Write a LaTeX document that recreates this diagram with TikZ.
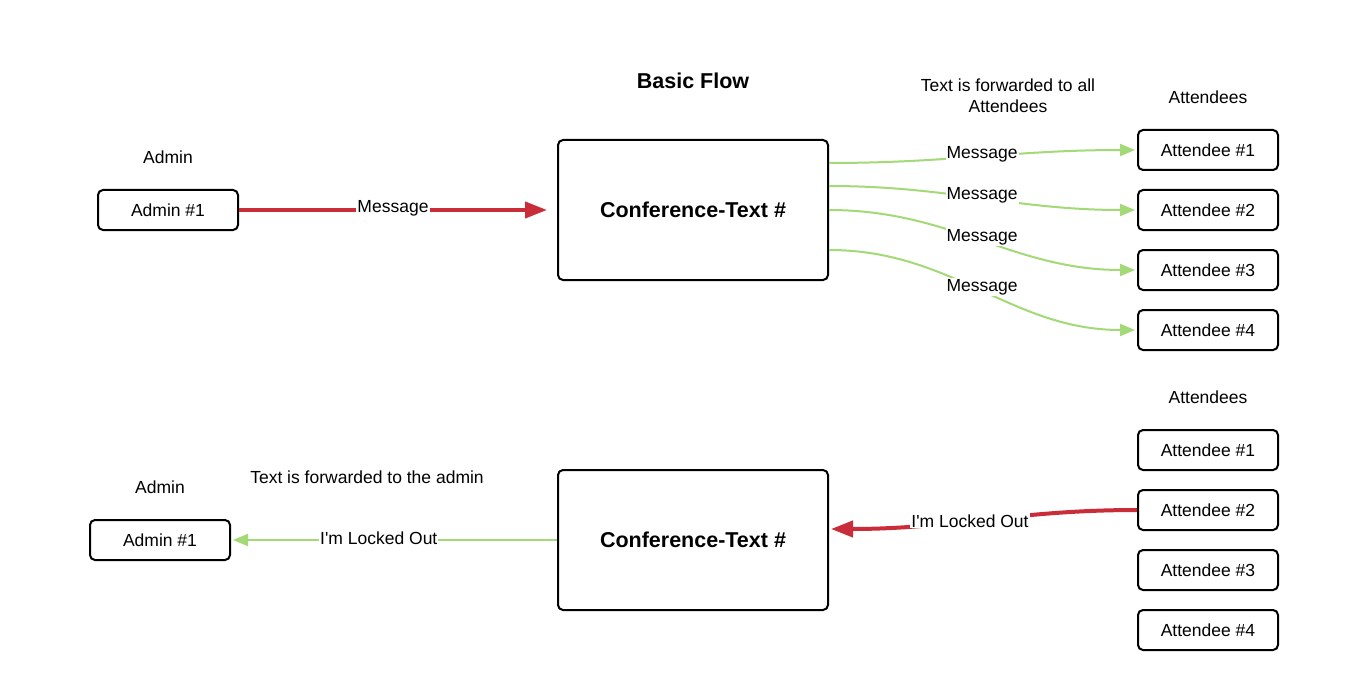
\documentclass[tikz,border=0pt]{standalone}
\usepackage{fontspec}
\setmainfont{Liberation Sans}
\usetikzlibrary{arrows.meta}
\definecolor{lcred}{HTML}{C92D39}
\definecolor{lcgreen}{HTML}{A3D977}
\tikzset{
  box/.style={draw=black, line width=2pt, rounded corners=5pt, minimum width=140pt, minimum height=40pt, inner sep=0pt, font=\fontsize{17.5}{20}\selectfont},
  conf/.style={draw=black, line width=2pt, rounded corners=5pt, minimum width=270pt, minimum height=140pt, inner sep=0pt, font=\bfseries\fontsize{21.5}{24}\selectfont},
  txt/.style={font=\fontsize{17.5}{21}\selectfont, align=center, inner sep=0pt},
  lbl/.style={font=\fontsize{17.5}{20}\selectfont, fill=white, inner sep=1pt},
  redarrow/.style={draw=lcred, line width=4pt, -{Triangle[length=22pt,width=16pt]}},
  greenarrow/.style={draw=lcgreen, line width=2pt, -{Triangle[length=15pt,width=12pt]}},
}
\begin{document}
\begin{tikzpicture}[x=1pt,y=-1pt]
\useasboundingbox[fill=white] (0,0) rectangle (1369,690);
% top
\node[txt, font=\bfseries\fontsize{21.5}{24}\selectfont] (title) at (693,81) {Basic Flow};
\node[txt] (fwdall) at (1008,96) {Text is forwarded to all\\Attendees};
\node[txt] (attT) at (1208,97) {Attendees};
\node[txt] (adminT) at (168,157) {Admin};
\node[box] (a1) at (168,210) {Admin \#1};
\node[conf] (c1) at (693,210) {Conference-Text \#};
\node[box] (t1) at (1208,150) {Attendee \#1};
\node[box] (t2) at (1208,210) {Attendee \#2};
\node[box] (t3) at (1208,270) {Attendee \#3};
\node[box] (t4) at (1208,330) {Attendee \#4};
\draw[redarrow] (a1.east) -- ([xshift=-10pt]c1.west) node[lbl, pos=0.5, yshift=2pt] {Message};
\draw[greenarrow] ([yshift=47pt]c1.east) to[out=0,in=180] node[lbl, pos=0.5, yshift=2pt] {Message} ([xshift=-2pt]t1.west);
\draw[greenarrow] ([yshift=24pt]c1.east) to[out=0,in=180] node[lbl, pos=0.5, yshift=3pt] {Message} ([xshift=-2pt]t2.west);
\draw[greenarrow] (c1.east) to[out=0,in=180] node[lbl, pos=0.5, yshift=3pt] {Message} ([xshift=-2pt]t3.west);
\draw[greenarrow] ([yshift=-40pt]c1.east) to[out=0,in=180] node[lbl, pos=0.5, yshift=3pt] {Message} ([xshift=-2pt]t4.west);
% bottom
\node[txt] (attB) at (1208,397) {Attendees};
\node[txt] (adminB) at (160,487) {Admin};
\node[txt] (fwdadmin) at (367,477) {Text is forwarded to the admin};
\node[box] (a2) at (160,540) {Admin \#1};
\node[conf] (c2) at (693,540) {Conference-Text \#};
\node[box] (u1) at (1208,450) {Attendee \#1};
\node[box] (u2) at (1208,510) {Attendee \#2};
\node[box] (u3) at (1208,570) {Attendee \#3};
\node[box] (u4) at (1208,630) {Attendee \#4};
\draw[greenarrow] (c2.west) -- ([xshift=2pt]a2.east) node[lbl, pos=0.55, yshift=2pt] {I\textquotesingle m Locked Out};
\draw[redarrow] (u2.west) to[out=180,in=0] node[lbl, pos=0.55] {I\textquotesingle m Locked Out} ([xshift=2pt,yshift=11pt]c2.east);
\end{tikzpicture}
\end{document}
